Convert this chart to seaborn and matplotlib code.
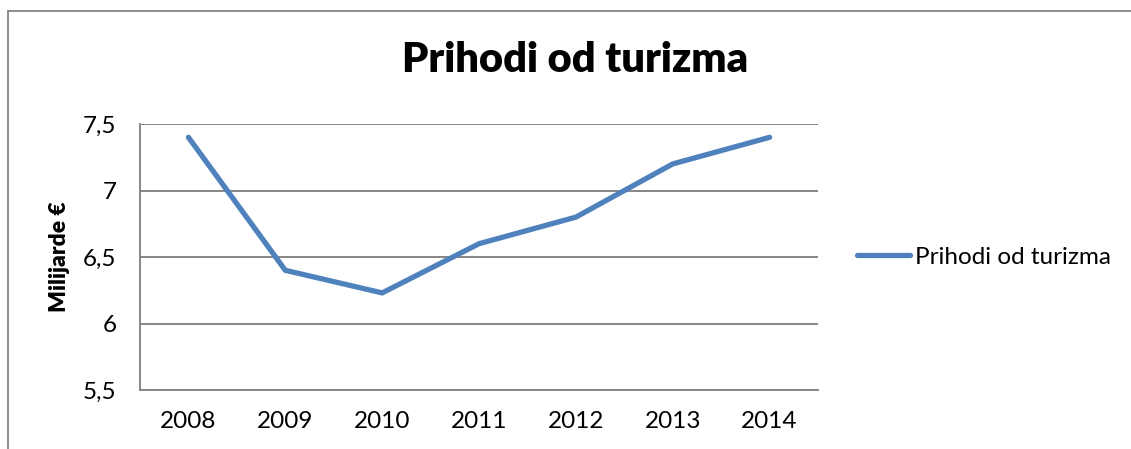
import matplotlib
matplotlib.use("Agg")
import matplotlib.pyplot as plt
from matplotlib.lines import Line2D
import seaborn as sns
import pandas as pd

# Data
years = [2008, 2009, 2010, 2011, 2012, 2013, 2014]
revenue = [7.40, 6.40, 6.23, 6.60, 6.80, 7.20, 7.40]
y_ticks = [5.5, 6.0, 6.5, 7.0, 7.5]
y_tick_labels = ["5,5", "6", "6,5", "7", "7,5"]
series_name = "Prihodi od turizma"
title = "Prihodi od turizma"
y_label = "Milijarde €"

df = pd.DataFrame({"year": years, "value": revenue})

sns.set_style("white")
plt.rcParams['font.family'] = ['Lato', 'DejaVu Sans']
plt.rcParams['text.color'] = 'black'
plt.rcParams['axes.labelcolor'] = 'black'

fig = plt.figure(figsize=(11.31, 4.49), dpi=100)
ax = fig.add_axes([0.1238, 0.1314, 0.5995, 0.5924])

sns.lineplot(data=df, x="year", y="value", ax=ax, color="#4F81BD",
             linewidth=3.8, solid_capstyle="round", solid_joinstyle="miter",
             label=series_name)

grid_c = "#868686"
ax.set_xlim(2007.5, 2014.5)
ax.set_ylim(5.5, 7.5)
ax.set_yticks(y_ticks)
ax.set_yticklabels(y_tick_labels)
ax.set_xticks(years)
ax.set_xticklabels([str(y) for y in years])
ax.tick_params(axis="both", length=0, labelsize=17.5, colors="black")
ax.tick_params(axis="y", pad=17)
ax.tick_params(axis="x", pad=15)
for y in y_ticks:
    ax.axhline(y, color=grid_c, linewidth=1.4, zorder=0)
ax.spines[['right', 'top']].set_visible(False)
ax.spines['left'].set_color(grid_c)
ax.spines['left'].set_linewidth(1.4)
ax.spines['bottom'].set_color(grid_c)
ax.spines['bottom'].set_linewidth(1.4)
ax.set_xlabel('')
ax.set_ylabel(y_label, fontsize=16.5, fontweight="heavy", labelpad=9, color="black")

fig.text(0.5084, 0.866, title, ha='center', va='center', fontsize=30,
         fontweight='heavy', color='black')

leg = ax.legend(loc="center left", bbox_to_anchor=(1.025, 0.5), frameon=False,
                fontsize=17.5, handlelength=2.2, handletextpad=0.2)
for t in leg.get_texts():
    t.set_color("black")

# outer chart frame (only left and top edges visible in the crop)
fig.add_artist(Line2D([0.0071, 0.0071], [0.0, 0.9755], color=grid_c, linewidth=1.3,
                      transform=fig.transFigure))
fig.add_artist(Line2D([0.0071, 1.0], [0.9755, 0.9755], color=grid_c, linewidth=1.3,
                      transform=fig.transFigure))

plt.savefig("out.png", dpi=100)
